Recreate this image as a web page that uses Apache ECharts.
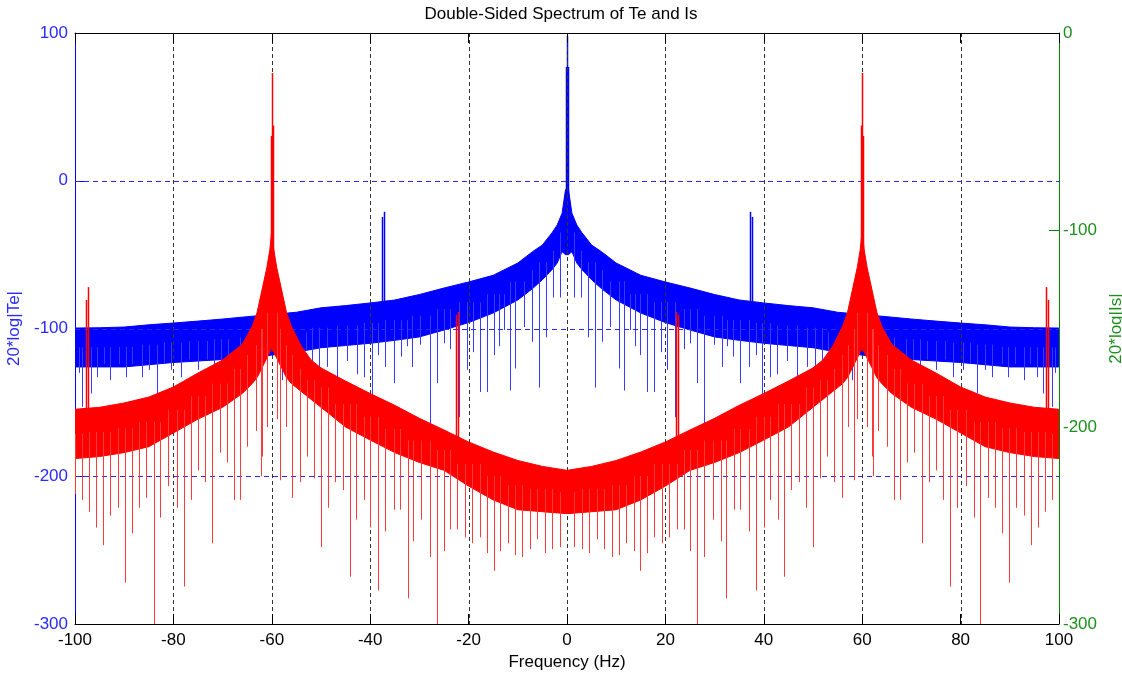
<!DOCTYPE html>
<html>
<head>
<meta charset="utf-8">
<title>Double-Sided Spectrum of Te and Is</title>
<script src="https://cdn.jsdelivr.net/npm/echarts@6/dist/echarts.min.js"></script>
<style>
  html, body { margin: 0; padding: 0; background: #fff; }
  #chart { width: 1122px; height: 676px; }
</style>
</head>
<body>
<div id="chart"></div>
<script>
// Spectrum is symmetric about 0 Hz: values below are read for f >= 0 and mirrored.
const FONT = "'Liberation Sans', Arial, sans-serif";

// Te (left axis): dense band edges
const blueEnvFreq = [0.3, 1, 2, 3, 5, 7, 10, 15, 20, 25, 30, 35, 40, 45, 50, 55, 60, 65, 70, 75, 80, 85, 90, 95, 100];
const blueTop = [-6, -22, -30, -35, -43.5, -48, -55.7, -64, -68.5, -72.6, -77, -80.7, -82.7, -84.5, -86, -89, -90.5, -92, -93.6, -95, -96.3, -97.5, -99, -99.5, -99.7];
const blueBottom = [-50, -48, -55.7, -60, -67, -73, -80.7, -89.5, -96, -101, -105.7, -108, -110, -111.5, -113, -116, -118, -120, -121, -122, -123, -124.5, -126, -126, -126];
// Te: lines rising above the band [freq, value]
const blueUp = [[0, 98], [0.25, 77], [37.26, -21], [37.6, -24.5]];
// Te: dips below the band [freq, value]
const blueDips = [
  [1.35, -79], [2.85, -79], [4.27, -106], [5.76, -140], [7.1, -109], [8.8, -99], [10.5, -127], [11.65, -142],
  [12.9, -101], [13.9, -112], [14.8, -118], [16.3, -143], [17.75, -143], [19.2, -116], [20.3, -128], [22.0, -160],
  [23.85, -114], [25.1, -110], [26.4, -137], [27.8, -165], [29.8, -111], [31.5, -126], [32.6, -112], [33.7, -119],
  [35.1, -137], [36.9, -126], [38.4, -118], [39.6, -148], [41.3, -133], [42.7, -131], [44.7, -122], [46.7, -133],
  [48.8, -126], [50.4, -126], [51.8, -122], [53.1, -115], [56.5, -128], [58.0, -135], [62.0, -130], [64.5, -128],
  [66.5, -124], [69.0, -128], [70.4, -121], [71.7, -133], [73.1, -121], [75.1, -128], [76.8, -121], [78.5, -133],
  [80.5, -128], [81.9, -124], [83.3, -144], [84.9, -128], [86.3, -133], [88.4, -124], [89.7, -133], [91.1, -124],
  [92.8, -135], [94.2, -124], [95.5, -133], [96.8, -144], [98.6, -153], [99.2, -130]
];

// Is (right axis): dense band edges
const redEnvFreq = [0, 5, 10, 15, 20, 25, 30, 35, 40, 45, 50, 52, 54, 56, 57, 58, 59, 59.6, 60, 60.4, 61, 62, 63, 64, 66, 70, 75, 80, 85, 90, 95, 100];
const redTop = [-222, -220, -217, -212.7, -207.6, -201.5, -195.6, -189, -183, -176.7, -170, -166, -159, -149, -142, -130.5, -119, -110, -100, -110, -119, -130.5, -142, -149, -158, -166, -172.6, -179.7, -184.8, -187.8, -190, -191];
const redBottom = [-244, -243, -242, -237, -230, -222, -218, -213, -206.6, -200, -190, -186, -182, -178, -175, -170, -165, -162, -160, -162, -165, -170, -175, -178, -183, -190, -196, -203, -210, -213, -215, -216];
const redUp = [[59.7, -47], [59.9, -20.3], [60.2, -52.3], [22.2, -141.6], [22.55, -143], [97.4, -129], [97.7, -135.5]];
const redDips = [
  [1.35, -261], [3.05, -262], [4.4, -264], [6.1, -257], [7.45, -262], [9.15, -266], [10.5, -265], [11.9, -259],
  [13.55, -263], [14.8, -273], [16.3, -264], [17.75, -256], [19.4, -259], [20.7, -256], [22.4, -252], [23.7, -252],
  [25.1, -263], [26.4, -300], [27.8, -266], [29.6, -247], [31.2, -258], [32.3, -287], [33.9, -242], [35.2, -242],
  [36.9, -253], [38.4, -283], [40.0, -251], [41.3, -237], [42.8, -247], [44.2, -276], [45.5, -232], [47.1, -228],
  [48.6, -241], [50.0, -261], [51.5, -226], [52.8, -215], [54.2, -228], [55.9, -236], [57.2, -200], [58.3, -227],
  [59.0, -196], [61.0, -200], [62.0, -215], [62.2, -225], [63.3, -202], [65.0, -210], [66.4, -237], [67.75, -237],
  [69.1, -218], [70.5, -213], [72.2, -259], [73.5, -228], [74.9, -222], [76.4, -237], [77.9, -281], [79.3, -241],
  [81.0, -230], [82.7, -246], [84.0, -300], [85.5, -236], [86.9, -241], [88.4, -254], [89.8, -279], [91.3, -241],
  [92.8, -245], [94.3, -260], [95.7, -251], [97.1, -243], [98.6, -237], [99.9, -234]
];

const xTicks = { min: -100, max: 100, interval: 20 };
// inner grid lines (the outer ones coincide with the frame)
const xGridLines = [-80, -60, -40, -20, 0, 20, 40, 60, 80];
const yGridLines = [0, -100, -200];

function mirrorEnv(freqs, vals) {
  const pts = [];
  for (let i = freqs.length - 1; i >= 0; i--) if (freqs[i] > 0) pts.push([-freqs[i], vals[i]]);
  for (let i = 0; i < freqs.length; i++) pts.push([freqs[i], vals[i]]);
  return pts;
}

function mirrorPairs(list) {
  const out = [];
  list.forEach(p => {
    out.push(p);
    if (p[0] > 0) out.push([-p[0], p[1]]);
  });
  return out;
}

// middle of the band at the nearest sampled edge, where a spike joins the band
function bandMid(freqs, top, bottom, f) {
  const a = Math.abs(f);
  let best = 0;
  for (let i = 1; i < freqs.length; i++) {
    if (Math.abs(freqs[i] - a) < Math.abs(freqs[best] - a)) best = i;
  }
  return (top[best] + bottom[best]) / 2;
}

function band(name, freqs, top, bottom, yAxisIndex, color, z) {
  const upper = mirrorEnv(freqs, top);
  const lower = mirrorEnv(freqs, bottom).reverse();
  return {
    name, type: 'custom', yAxisIndex, z, silent: true, clip: true,
    data: [[0, 0]],
    renderItem: (params, api) => ({
      type: 'polygon',
      shape: { points: upper.concat(lower).map(p => api.coord(p)) },
      style: { fill: color, stroke: color, lineWidth: 1 }
    })
  };
}

function spikes(name, list, freqs, top, bottom, yAxisIndex, color, width, z) {
  const data = mirrorPairs(list).map(p => [p[0], p[1], bandMid(freqs, top, bottom, p[0])]);
  return {
    name, type: 'custom', yAxisIndex, z, silent: true, clip: true, data,
    encode: { x: 0, y: 1 },
    renderItem: (params, api) => {
      const a = api.coord([api.value(0), api.value(1)]);
      const b = api.coord([api.value(0), api.value(2)]);
      const x = Math.round(a[0]) + 0.5;
      return {
        type: 'line',
        shape: { x1: x, y1: a[1], x2: x, y2: b[1] },
        style: { stroke: color, lineWidth: width }
      };
    }
  };
}

const vGrid = {
  name: 'x grid', type: 'custom', z: 2, silent: true, clip: true,
  data: xGridLines.map(v => [v, 100]),
  encode: { x: 0, y: 1 },
  renderItem: (params, api) => {
    const a = api.coord([api.value(0), 100]);
    const b = api.coord([api.value(0), -300]);
    const x = Math.round(a[0]) + 0.5;
    return {
      type: 'line',
      shape: { x1: x, y1: a[1], x2: x, y2: b[1] },
      style: { stroke: '#333', lineWidth: 1, lineDash: [4, 3] }
    };
  }
};

const hGrid = {
  name: 'y grid', type: 'custom', z: 4, silent: true, clip: true,
  data: yGridLines.map(v => [0, v]),
  encode: { x: 0, y: 1 },
  renderItem: (params, api) => {
    const a = api.coord([-100, api.value(1)]);
    const b = api.coord([100, api.value(1)]);
    const y = Math.round(a[1]) + 0.5;
    return {
      type: 'line',
      shape: { x1: a[0], y1: y, x2: b[0], y2: y },
      style: { stroke: '#2828ff', lineWidth: 1.2, lineDash: [5, 4] }
    };
  }
};

const chart = echarts.init(document.getElementById('chart'), null, { renderer: 'canvas' });

chart.setOption({
  animation: false,
  backgroundColor: '#fff',
  title: {
    text: 'Double-Sided Spectrum of Te and Is',
    left: 'center', top: 1,
    textStyle: { fontFamily: FONT, fontSize: 17, fontWeight: 'normal', color: '#000' }
  },
  grid: { left: 75, right: 63, top: 33, bottom: 52, containLabel: false, outerBoundsMode: 'none' },
  xAxis: [
    {
      type: 'value', ...xTicks, position: 'bottom', z: 4,
      axisLine: { show: true, onZero: false, lineStyle: { color: '#000', width: 1 } },
      axisTick: { show: true, inside: true, length: 10, lineStyle: { color: '#000' } },
      axisLabel: { color: '#000', fontFamily: FONT, fontSize: 17, margin: 8 },
      splitLine: { show: false },
      name: 'Frequency (Hz)', nameLocation: 'middle', nameGap: 30,
      nameTextStyle: { color: '#000', fontFamily: FONT, fontSize: 17 }
    },
    {
      type: 'value', ...xTicks, position: 'top', z: 4,
      axisLine: { show: true, onZero: false, lineStyle: { color: '#000', width: 1 } },
      axisTick: { show: true, inside: true, length: 10, lineStyle: { color: '#000' } },
      axisLabel: { show: false },
      splitLine: { show: false }
    }
  ],
  yAxis: [
    {
      type: 'value', min: -300, max: 100, interval: 100, position: 'left', z: 3,
      axisLine: { show: true, onZero: false, lineStyle: { color: '#0000ff', width: 1 } },
      axisTick: { show: true, inside: true, length: 10, lineStyle: { color: '#0000ff' } },
      axisLabel: { color: '#2a2aff', fontFamily: FONT, fontSize: 17, margin: 7 },
      splitLine: { show: false },
      name: '20*log|Te|', nameLocation: 'middle', nameRotate: 90, nameGap: 49,
      nameTextStyle: { color: '#2a2aff', fontFamily: FONT, fontSize: 17 }
    },
    {
      type: 'value', min: -300, max: 0, interval: 100, position: 'right', z: 3,
      axisLine: { show: true, onZero: false, lineStyle: { color: '#008000', width: 1 } },
      axisTick: { show: true, inside: true, length: 10, lineStyle: { color: '#008000' } },
      axisLabel: { color: '#1f8f1f', fontFamily: FONT, fontSize: 17, margin: 4 },
      splitLine: { show: false },
      name: '20*log|Is|', nameLocation: 'middle', nameRotate: 90, nameGap: 38,
      nameTextStyle: { color: '#1f8f1f', fontFamily: FONT, fontSize: 17 }
    }
  ],
  series: [
    band('Te', blueEnvFreq, blueTop, blueBottom, 0, '#0000ff', 1),
    spikes('Te dips', blueDips, blueEnvFreq, blueTop, blueBottom, 0, '#3a3aff', 1, 1),
    spikes('Te peaks', blueUp, blueEnvFreq, blueTop, blueBottom, 0, '#0000ff', 1.5, 1),
    vGrid,
    hGrid,
    band('Is', redEnvFreq, redTop, redBottom, 1, '#ff0000', 5),
    spikes('Is dips', redDips, redEnvFreq, redTop, redBottom, 1, '#ff3a3a', 1, 5),
    spikes('Is peaks', redUp, redEnvFreq, redTop, redBottom, 1, '#ff0000', 1.5, 5)
  ]
});
</script>
</body>
</html>
